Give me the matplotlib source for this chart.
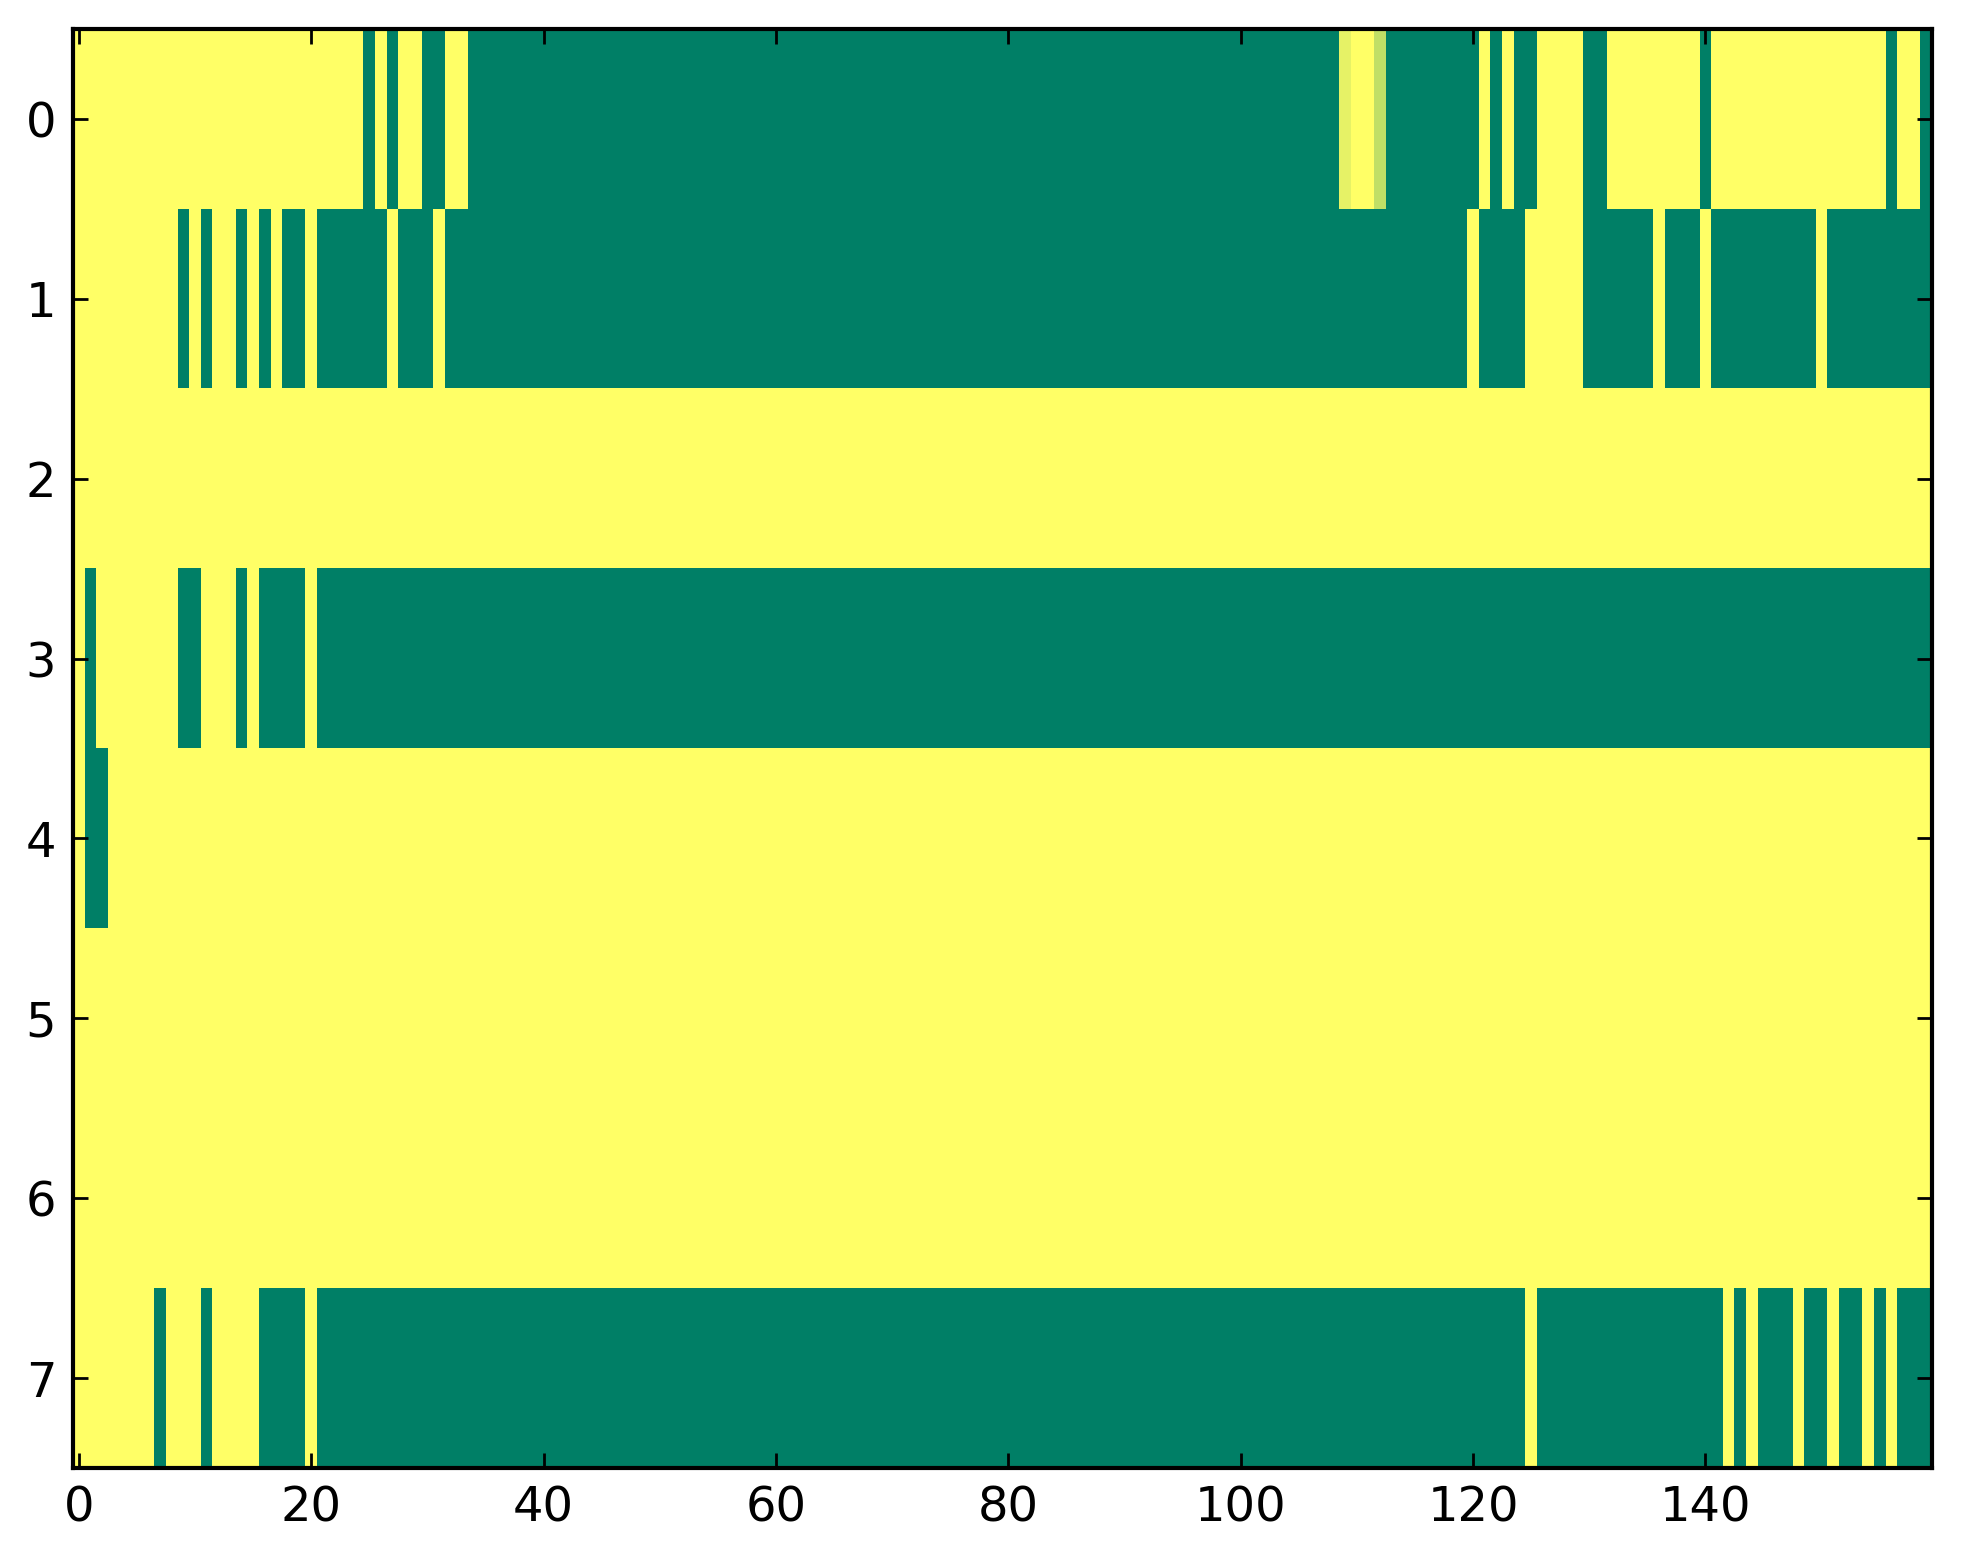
import numpy as np
import matplotlib
matplotlib.use("Agg")
import matplotlib.pyplot as plt

# Run-length encoded rows: (value, count) ; 0 = green, 1 = yellow (summer cmap)
row0 = [(1, 25), (0, 1), (1, 1), (0, 1), (1, 2), (0, 2), (1, 2), (0, 75), (0.9, 1), (1, 2), (0.75, 1),
        (0, 8), (1, 1), (0, 1), (1, 1), (0, 2), (1, 4), (0, 2), (1, 8), (0, 1), (1, 15), (0, 1), (1, 2), (0, 1)]
row1 = [(1, 9), (0, 1), (1, 1), (0, 1), (1, 2), (0, 1), (1, 1), (0, 1), (1, 1), (0, 2), (1, 1), (0, 6),
        (1, 1), (0, 3), (1, 1), (0, 88), (1, 1), (0, 4), (1, 5), (0, 6), (1, 1), (0, 3), (1, 1), (0, 9),
        (1, 1), (0, 9)]
row2 = [(1, 160)]
row3 = [(1, 1), (0, 1), (1, 7), (0, 2), (1, 3), (0, 1), (1, 1), (0, 4), (1, 1), (0, 139)]
row4 = [(1, 1), (0, 2), (1, 157)]
row5 = [(1, 160)]
row6 = [(1, 160)]
row7 = [(1, 7), (0, 1), (1, 3), (0, 1), (1, 4), (0, 4), (1, 1), (0, 104), (1, 1), (0, 16), (1, 1), (0, 1),
        (1, 1), (0, 3), (1, 1), (0, 2), (1, 1), (0, 2), (1, 1), (0, 1), (1, 1), (0, 3)]

rows = [row0, row1, row2, row3, row4, row5, row6, row7]
xticks = [0, 20, 40, 60, 80, 100, 120, 140]
yticks = [0, 1, 2, 3, 4, 5, 6, 7]


def expand(runs):
    out = []
    for v, n in runs:
        out.extend([v] * n)
    return out


data = np.array([expand(r) for r in rows], dtype=float)

W, H = 1963, 1564
dpi = 200
fig = plt.figure(figsize=(W / dpi, H / dpi), dpi=dpi)
ax = fig.add_axes([73 / W, 1 - 1468 / H, (1932 - 73) / W, (1468 - 29) / H])
ax.imshow(data, cmap="summer", vmin=0, vmax=1, aspect="auto", interpolation="nearest")

ax.set_xticks(xticks)
ax.set_yticks(yticks)
ax.tick_params(direction="in", top=True, right=True, length=5.4, width=1.0,
               labelsize=17.3, pad=6)
for s in ax.spines.values():
    s.set_linewidth(1.5)

fig.savefig("out.png", dpi=dpi)
